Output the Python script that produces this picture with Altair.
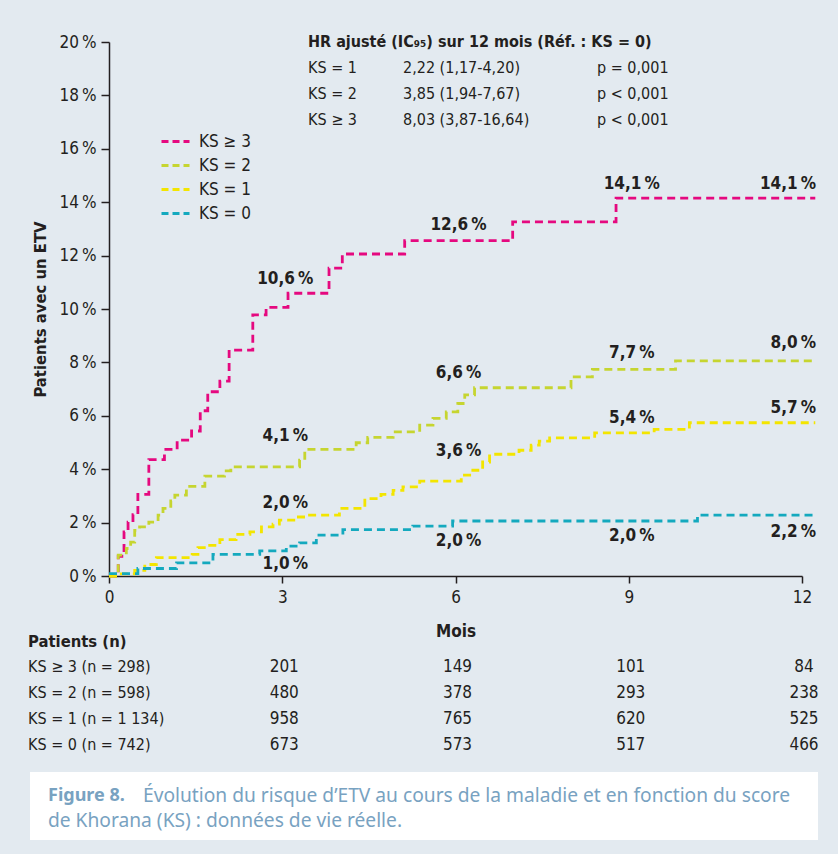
import altair as alt
import pandas as pd

# ---------------- data ----------------
groups = ["KS ≥ 3", "KS = 2", "KS = 1", "KS = 0"]
colors = ["#e5097f", "#c6d530", "#f3e500", "#14a9be"]

ks3_t = [0, 0.16, 0.26, 0.33, 0.415, 0.50, 0.69, 0.96, 1.18, 1.43, 1.58, 1.71, 1.92, 2.08, 2.49, 2.72, 3.10, 3.81, 4.04, 5.12, 6.99, 8.78, 12.23]
ks3_v = [0, 0.74, 1.65, 2.02, 2.30, 3.06, 4.36, 4.74, 5.09, 5.43, 6.19, 6.90, 7.30, 8.46, 9.78, 10.06, 10.59, 11.53, 12.06, 12.56, 13.26, 14.15, 14.15]

ks2_t = [0, 0.16, 0.30, 0.375, 0.445, 0.53, 0.69, 0.85, 0.935, 1.07, 1.14, 1.34, 1.66, 2.0, 2.11, 3.30, 3.39, 4.28, 4.48, 4.92, 5.38, 5.61, 5.84, 6.04, 6.16, 6.33, 8.0, 8.37, 9.81, 12.23]
ks2_v = [0, 0.78, 1.03, 1.27, 1.71, 1.84, 2.02, 2.28, 2.53, 2.81, 3.03, 3.36, 3.74, 3.94, 4.09, 4.34, 4.74, 4.99, 5.19, 5.40, 5.65, 5.90, 6.15, 6.46, 6.78, 7.05, 7.46, 7.74, 8.06, 8.06]

ks1_t = [0, 0.16, 0.445, 0.62, 0.82, 1.44, 1.54, 1.69, 1.92, 2.2, 2.44, 2.64, 2.84, 2.95, 3.24, 3.42, 3.99, 4.43, 4.71, 4.92, 5.09, 5.38, 6.1, 6.3, 6.47, 6.59, 7.1, 7.31, 7.45, 7.63, 8.41, 9.44, 10.05, 12.23]
ks1_v = [0, 0.08, 0.21, 0.43, 0.69, 0.81, 1.06, 1.15, 1.36, 1.56, 1.65, 1.84, 1.94, 2.09, 2.21, 2.28, 2.53, 2.90, 3.06, 3.21, 3.34, 3.55, 3.78, 3.96, 4.27, 4.56, 4.71, 4.90, 5.05, 5.17, 5.36, 5.49, 5.74, 5.74]

ks0_t = [0, 0.5, 1.17, 1.8, 2.61, 3.07, 3.30, 3.59, 4.05, 5.26, 5.95, 10.19, 12.23]
ks0_v = [0.09, 0.28, 0.49, 0.81, 0.94, 1.12, 1.24, 1.53, 1.74, 1.87, 2.06, 2.28, 2.28]

# annotated percentages (month, height in %)
lab_text = ["10,6\u202f%", "12,6\u202f%", "14,1\u202f%", "4,1\u202f%", "6,6\u202f%", "7,7\u202f%",
            "2,0\u202f%", "3,6\u202f%", "5,4\u202f%", "1,0\u202f%", "2,0\u202f%", "2,0\u202f%"]
lab_month = [3, 6, 9, 3, 6, 9, 3, 6, 9, 3, 6, 9]
lab_y = [11.12, 13.16, 14.69, 5.23, 7.59, 8.36, 2.72, 4.69, 5.92, 0.44, 1.31, 1.49]
end_text = ["14,1\u202f%", "8,0\u202f%", "5,7\u202f%", "2,2\u202f%"]
end_month = [12, 12, 12, 12]
end_y = [14.69, 8.71, 6.30, 1.65]

# numbers at risk
risk_months = [3, 6, 9, 12]
risk_labels = ["KS ≥ 3 (n = 298)", "KS = 2 (n = 598)", "KS = 1 (n = 1 134)", "KS = 0 (n = 742)"]
risk_ks3 = [201, 149, 101, 84]
risk_ks2 = [480, 378, 293, 238]
risk_ks1 = [958, 765, 620, 525]
risk_ks0 = [673, 573, 517, 466]

hr_title = "HR ajusté (IC₉₅) sur 12 mois (Réf. : KS = 0)"
hr_rows = ["KS = 1", "KS = 2", "KS ≥ 3"]
hr_values = ["2,22 (1,17-4,20)", "3,85 (1,94-7,67)", "8,03 (3,87-16,64)"]
hr_p = ["p = 0,001", "p < 0,001", "p < 0,001"]

caption_bold = "Figure 8."
caption_1 = "Évolution du risque d’ETV au cours de la maladie et en fonction du score"
caption_2 = "de Khorana (KS) : données de vie réelle."

# ---------------- build ----------------
FONT = "DejaVu Sans Condensed, DejaVu Sans, sans-serif"
CAPFONT = "Noto Sans, sans-serif"
INK = "#231f20"
CAPCOL = "#78a2c1"
FS = 17

rows = []
for g, ts, vs in zip(groups, [ks3_t, ks2_t, ks1_t, ks0_t], [ks3_v, ks2_v, ks1_v, ks0_v]):
    for t, v in zip(ts, vs):
        rows.append({"groupe": g, "mois": t, "pct": v})
curves = pd.DataFrame(rows)

xscale = alt.Scale(domain=[0, 12], nice=False, zero=False)
yscale = alt.Scale(domain=[0, 20], nice=False)

X = alt.X("mois:Q", scale=xscale,
          axis=alt.Axis(values=[0, 3, 6, 9, 12], format="d", title="Mois", titleFontWeight="bold",
                        titlePadding=18, labelPadding=6, tickSize=7, labelFlush=False))
Y = alt.Y("pct:Q", scale=yscale,
          axis=alt.Axis(values=list(range(0, 21, 2)), labelExpr="datum.value + '\u2009%'",
                        title="Patients avec un ETV", titleFontWeight="bold", titleFontSize=16.5,
                        titlePadding=10, labelPadding=5, tickSize=8))

lines = alt.Chart(curves).mark_line(
    interpolate="step-after", strokeDash=[8, 5], strokeWidth=2.8
).encode(
    x=X, y=Y,
    color=alt.Color("groupe:N", scale=alt.Scale(domain=groups, range=colors),
                    legend=alt.Legend(title=None, orient="none", legendX=51, legendY=84,
                                      symbolType="stroke", symbolSize=784, symbolStrokeWidth=3,
                                      symbolDash=[7, 4], labelFontSize=FS, labelFont=FONT,
                                      labelColor=INK, rowPadding=-3, labelOffset=8)),
)

labs = pd.DataFrame({"t": lab_text, "mois": lab_month, "pct": lab_y})
ends = pd.DataFrame({"t": end_text, "mois": end_month, "pct": end_y})
lab_layer = alt.Chart(labs).mark_text(font=FONT, fontSize=FS, fontWeight="bold", color=INK,
                                      align="center", baseline="middle", dx=3).encode(
    x="mois:Q", y="pct:Q", text="t:N")
end_layer = alt.Chart(ends).mark_text(font=FONT, fontSize=FS, fontWeight="bold", color=INK,
                                      align="right", baseline="middle", dx=14).encode(
    x="mois:Q", y="pct:Q", text="t:N")

layers = [lines, lab_layer, end_layer]

# numbers at risk table
for i, vals in enumerate([risk_ks3, risk_ks2, risk_ks1, risk_ks0]):
    d = pd.DataFrame({"mois": risk_months, "n": vals})
    layers.append(alt.Chart(d).mark_text(font=FONT, fontSize=FS, color=INK, align="center",
                                         baseline="middle", dx=2).encode(
        x="mois:Q", y=alt.value(625 + 26 * i), text="n:Q"))

one = pd.DataFrame({"k": [0]})

def txt(s, x, y, **kw):
    opts = dict(font=FONT, fontSize=FS, color=INK, align="left", baseline="middle", text=s)
    opts.update(kw)
    return alt.Chart(one).mark_text(**opts).encode(x=alt.value(x), y=alt.value(y))

layers.append(txt("Patients (n)", -81, 600, fontWeight="bold", fontSize=16.5))
for i, s in enumerate(risk_labels):
    layers.append(txt(s, -81, 625 + 26 * i, fontSize=16))

layers.append(txt(hr_title, 199, 0, fontWeight="bold", fontSize=16))
for i in range(3):
    layers.append(txt(hr_rows[i], 199, 26 + 26 * i, fontSize=16))
    layers.append(txt(hr_values[i], 294, 26 + 26 * i, fontSize=16))
    layers.append(txt(hr_p[i], 488, 26 + 26 * i, fontSize=16))

# caption box
layers.append(alt.Chart(one).mark_rect(color="white").encode(
    x=alt.value(-79), x2=alt.value(709), y=alt.value(730), y2=alt.value(798)))
layers.append(txt(caption_bold, -61, 754, font=CAPFONT, fontSize=18, fontWeight="bold", color=CAPCOL))
layers.append(txt(caption_1, 34, 754, font=CAPFONT, fontSize=19.2, color=CAPCOL))
layers.append(txt(caption_2, -61, 779, font=CAPFONT, fontSize=19.2, color=CAPCOL))

chart = alt.layer(*layers).properties(
    width=693, height=534,
    autosize=alt.AutoSizeParams(type="none"),
    padding={"left": 109, "top": 42, "right": 36, "bottom": 278},
    background="#e3eaf0",
).configure_view(stroke="transparent").configure_axis(
    grid=False, domainColor=INK, domainWidth=1.5, tickColor=INK, tickWidth=1.5,
    labelColor=INK, labelFont=FONT, labelFontSize=FS, titleColor=INK, titleFont=FONT,
    titleFontSize=FS
)

chart.save("out.html", embed_options={"renderer": "svg", "actions": False})
